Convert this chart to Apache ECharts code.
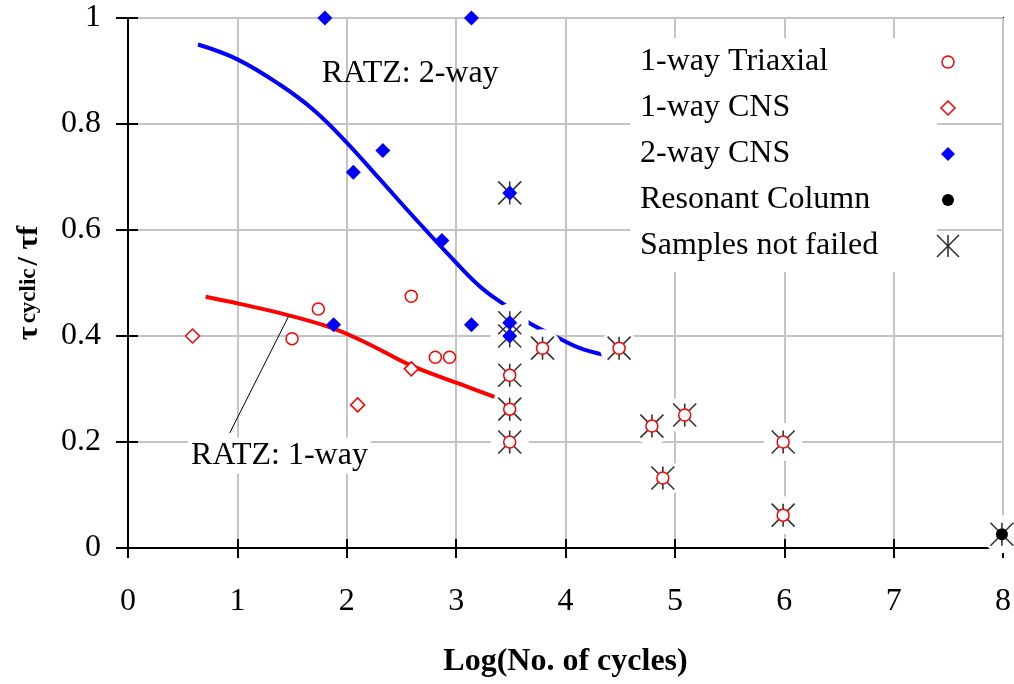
<!DOCTYPE html>
<html><head><meta charset="utf-8">
<script src="https://cdn.jsdelivr.net/npm/echarts@6/dist/echarts.min.js"></script>
<style>html,body{margin:0;padding:0;background:#fff}#c{width:1014px;height:684px}</style>
</head><body><div id="c"></div>
<script>
// ---- data (x = log(No. of cycles), y = tau cyclic / tau f) ----
const xTickValues = [0, 1, 2, 3, 4, 5, 6, 7, 8];
const yTickValues = [0, 0.2, 0.4, 0.6, 0.8, 1];
const triaxial1way = [[1.5,0.395],[1.74,0.451],[2.59,0.475],[2.81,0.36],[2.94,0.36],
  [3.49,0.326],[3.49,0.262],[3.49,0.2],[3.79,0.377],[4.49,0.377],[4.79,0.23],
  [5.09,0.251],[4.89,0.132],[5.99,0.2],[5.99,0.062]];
const cns1way = [[0.59,0.4],[2.1,0.27],[2.59,0.338]];
const cns2way = [[1.8,1.0],[3.14,1.0],[2.06,0.709],[2.33,0.75],[2.87,0.58],[1.88,0.421],
  [3.14,0.421],[3.49,0.67],[3.49,0.425],[3.49,0.4]];
const resonantColumn = [[7.99,0.026]];
const notFailed = [[3.49,0.67],[3.49,0.425],[3.49,0.4],[3.49,0.326],[3.49,0.262],[3.49,0.2],
  [3.79,0.377],[4.49,0.377],[4.79,0.23],[5.09,0.251],[4.89,0.132],[5.99,0.2],[5.99,0.062],[7.99,0.026]];
const ratz2way = [[0.64,0.95],[1.0,0.922],[1.39,0.874],[1.7,0.826],[2.0,0.765],[2.31,0.694],
  [2.61,0.625],[2.92,0.556],[3.22,0.493],[3.49,0.452],[3.65,0.427],[3.9,0.4],[4.12,0.378],[4.36,0.364]];
const ratz1way = [[0.71,0.474],[1.01,0.461],[1.47,0.439],[1.88,0.414],[2.2,0.385],[2.58,0.345],
  [3.04,0.309],[3.35,0.285]];
const leaderLine = [[0.93,0.217],[1.47,0.438]];
const annotations = [
  {text: 'RATZ: 2-way', pos: [2.58, 0.896], boxed: false},
  {text: 'RATZ: 1-way', pos: [1.385, 0.174], boxed: true}
];
const legendNames = ['1-way Triaxial', '1-way CNS', '2-way CNS', 'Resonant Column', 'Samples not failed'];

const FONT = 'Liberation Serif';
const STAR = 'path://M0,0L20,20M0,20L20,0M10,0L10,20';
const PAD = 'M-12,-12M12,12';
const circIcon = 'path://' + PAD + 'M-6,0A6,6,0,1,0,6,0A6,6,0,1,0,-6,0Z';
const diaIcon = 'path://' + PAD + 'M0,-7L7,0L0,7L-7,0Z';
const starIcon = 'path://' + PAD + 'M-11,-11L11,11M-11,11L11,-11M0,-11L0,11';

const chart = echarts.init(document.getElementById('c'));
const option = {
  animation: false,
  backgroundColor: '#fff',
  grid: {left: 128, right: 10, top: 18, bottom: 136, show: true, borderColor: '#000', borderWidth: 2, backgroundColor: 'transparent'},
  graphic: [{type: 'rect', z: 1, shape: {x: 630, y: 38, width: 307, height: 234}, style: {fill: '#fff'}}],
  legend: {
    orient: 'vertical', left: 640, top: 46, align: 'right', padding: 0,
    itemWidth: 26, itemHeight: 24, itemGap: 14,
    formatter: n => '{t|' + n + '}',
    textStyle: {rich: {t: {width: 290, align: 'left', fontSize: 32, lineHeight: 32, fontFamily: FONT, color: '#000'}}},
    data: [
      {name: legendNames[0], icon: circIcon, itemStyle: {color: '#fff', borderColor: '#ff0000', borderWidth: 1.5, opacity: 1}},
      {name: legendNames[1], icon: diaIcon, itemStyle: {color: '#fff', borderColor: '#ff0000', borderWidth: 1.5, opacity: 1}},
      {name: legendNames[2], icon: diaIcon, itemStyle: {color: '#0000ff', borderColor: '#0000ff', borderWidth: 0, opacity: 1}},
      {name: legendNames[3], icon: circIcon, itemStyle: {color: '#000', borderColor: '#000', borderWidth: 0, opacity: 1}},
      {name: legendNames[4], icon: starIcon, itemStyle: {color: 'transparent', borderColor: '#333', borderWidth: 1.6, opacity: 1}}
    ]
  },
  xAxis: [
    {type: 'value', min: xTickValues[0], max: xTickValues[xTickValues.length - 1], interval: 1,
     name: 'Log(No. of cycles)', nameLocation: 'middle', nameGap: 98,
     nameTextStyle: {fontFamily: FONT, fontWeight: 'bold', fontSize: 32, color: '#000'},
     axisLine: {lineStyle: {color: '#000', width: 2}},
     axisTick: {show: true, inside: false, length: 10, lineStyle: {color: '#000', width: 2}},
     axisLabel: {margin: 38, fontFamily: FONT, fontSize: 32, color: '#000'},
     splitLine: {show: true, lineStyle: {color: '#c4c4c4', width: 2}}},
    {type: 'value', min: xTickValues[0], max: xTickValues[xTickValues.length - 1], interval: 1, position: 'bottom',
     axisLine: {show: false}, axisTick: {show: true, inside: true, length: 9, lineStyle: {color: '#000', width: 2}},
     axisLabel: {show: false}, splitLine: {show: false}}
  ],
  yAxis: [
    {type: 'value', min: yTickValues[0], max: yTickValues[yTickValues.length - 1], interval: 0.2,
     name: '{a|τ} {b|cyclic} {a|/ τf}', nameLocation: 'middle', nameRotate: 90, nameGap: 84,
     nameTextStyle: {fontFamily: FONT, fontWeight: 'bold', color: '#000',
       rich: {a: {fontFamily: FONT, fontWeight: 'bold', fontSize: 30, color: '#000'},
              b: {fontFamily: FONT, fontWeight: 'bold', fontSize: 23, color: '#000'}}},
     axisLine: {lineStyle: {color: '#000', width: 2}},
     axisTick: {show: true, inside: false, length: 12, lineStyle: {color: '#000', width: 2}},
     axisLabel: {margin: 27, fontFamily: FONT, fontSize: 32, color: '#000'},
     splitLine: {show: true, lineStyle: {color: '#c4c4c4', width: 2}}},
    {type: 'value', min: yTickValues[0], max: yTickValues[yTickValues.length - 1], interval: 0.2, position: 'left',
     axisLine: {show: false}, axisTick: {show: true, inside: true, length: 10, lineStyle: {color: '#000', width: 2}},
     axisLabel: {show: false}, splitLine: {show: false}}
  ],
  series: [
    {type: 'line', name: 'RATZ 2-way', data: ratz2way, smooth: 0.4, showSymbol: false, silent: true,
     lineStyle: {color: '#0000ff', width: 4}, z: 2},
    {type: 'line', name: 'RATZ 1-way', data: ratz1way, smooth: 0.4, showSymbol: false, silent: true,
     lineStyle: {color: '#ff0000', width: 4}, z: 2},
    {type: 'line', name: 'leader', data: leaderLine, showSymbol: false, silent: true,
     lineStyle: {color: '#000', width: 1}, z: 2},
    {type: 'scatter', name: 'halo', data: notFailed, symbol: 'circle', symbolSize: 38, silent: true,
     itemStyle: {color: '#fff', opacity: 1}, z: 3},
    {type: 'scatter', name: legendNames[4], data: notFailed, symbol: STAR, symbolSize: 23, silent: true,
     itemStyle: {color: 'transparent', borderColor: '#333', borderWidth: 1.6, opacity: 1}, z: 4},
    {type: 'scatter', name: legendNames[0], data: triaxial1way, symbol: 'circle', symbolSize: 12,
     itemStyle: {color: '#fff', borderColor: '#ff0000', borderWidth: 1.5, opacity: 1}, z: 5},
    {type: 'scatter', name: legendNames[1], data: cns1way, symbol: 'diamond', symbolSize: 14,
     itemStyle: {color: '#fff', borderColor: '#ff0000', borderWidth: 1.5, opacity: 1}, z: 5},
    {type: 'scatter', name: legendNames[2], data: cns2way, symbol: 'diamond', symbolSize: 15,
     itemStyle: {color: '#0000ff', opacity: 1}, z: 5},
    {type: 'scatter', name: legendNames[3], data: resonantColumn, symbol: 'circle', symbolSize: 12,
     itemStyle: {color: '#000', opacity: 1}, z: 5},
    {type: 'scatter', name: 'annotations', silent: true, symbolSize: 0, z: 6,
     itemStyle: {opacity: 1},
     data: annotations.map(a => ({name: a.text, value: a.pos,
       label: {backgroundColor: a.boxed ? '#fff' : 'transparent'}})),
     label: {show: true, position: 'inside', formatter: '{b}', fontFamily: FONT, fontSize: 32, color: '#000', padding: [2, 3]}}
  ]
};
chart.setOption(option);
</script></body></html>
